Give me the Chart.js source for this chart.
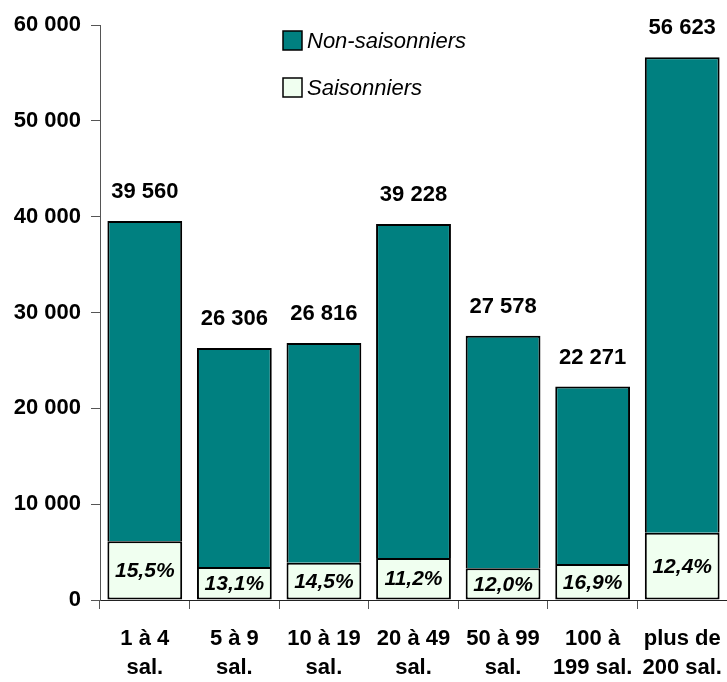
<!DOCTYPE html>
<html>
<head>
<meta charset="utf-8">
<script src="https://cdn.jsdelivr.net/npm/chart.js@4/dist/chart.umd.min.js"></script>
<style>
html,body{margin:0;padding:0;background:#fff;overflow:hidden;}
#wrap{width:727px;height:682px;position:relative;}
</style>
</head>
<body>
<div id="wrap"><canvas id="c" width="727" height="682"></canvas></div>
<script>
const categories = [["1 à 4","sal."],["5 à 9","sal."],["10 à 19","sal."],["20 à 49","sal."],["50 à 99","sal."],["100 à","199 sal."],["plus de","200 sal."]];
const seasonal = [6132, 3446, 3888, 4394, 3309, 3764, 7021];
const nonSeasonal = [33428, 22860, 22928, 34834, 24269, 18507, 49602];
const totals = [39560, 26306, 26816, 39228, 27578, 22271, 56623];
const percents = ["15,5%","13,1%","14,5%","11,2%","12,0%","16,9%","12,4%"];
const yTicks = [0, 10000, 20000, 30000, 40000, 50000, 60000];

const FONT = "'Liberation Sans', Arial, sans-serif";
const fmt = v => String(v).replace(/\B(?=(\d{3})+(?!\d))/g, ' ');

const labels = {
  id: 'labels',
  afterDatasetsDraw(chart){
    const ctx = chart.ctx;
    const m0 = chart.getDatasetMeta(0);
    const m1 = chart.getDatasetMeta(1);
    ctx.save();
    ctx.fillStyle = '#000';
    ctx.textAlign = 'center';
    ctx.textBaseline = 'middle';
    m0.data.forEach((bar, i) => {
      ctx.font = "italic bold 21px " + FONT;
      const cy = (bar.y + bar.base) / 2 + 1;
      ctx.fillText(percents[i], bar.x, cy);
    });
    m1.data.forEach((bar, i) => {
      ctx.font = "bold 22px " + FONT;
      ctx.fillText(fmt(totals[i]), bar.x, bar.y - 29);
    });
    // legend
    const items = [
      {label: chart.data.datasets[1].label, color: chart.data.datasets[1].backgroundColor, y: 41},
      {label: chart.data.datasets[0].label, color: chart.data.datasets[0].backgroundColor, y: 88}
    ];
    ctx.textAlign = 'left';
    ctx.font = "italic 22px " + FONT;
    items.forEach(it => {
      ctx.fillStyle = it.color;
      ctx.fillRect(283, it.y - 10, 19, 19);
      ctx.strokeStyle = '#000';
      ctx.lineWidth = 1.5;
      ctx.strokeRect(283, it.y - 10, 19, 19);
      ctx.fillStyle = '#000';
      ctx.fillText(it.label, 307, it.y + 1);
    });
    ctx.restore();
  }
};

new Chart(document.getElementById('c'), {
  type: 'bar',
  data: {
    labels: categories,
    datasets: [
      {label: 'Saisonniers', data: seasonal, backgroundColor: '#F0FFF0', borderColor: '#000', borderWidth: 2, borderSkipped: false, barPercentage: 0.835, categoryPercentage: 1},
      {label: 'Non-saisonniers', data: nonSeasonal, backgroundColor: '#008080', borderColor: '#000', borderWidth: 2, borderSkipped: 'start', barPercentage: 0.835, categoryPercentage: 1}
    ]
  },
  options: {
    responsive: false,
    animation: false,
    devicePixelRatio: 1,
    layout: {padding: {top: 25, right: 0, left: 0, bottom: 0}},
    plugins: {legend: {display: false}, tooltip: {enabled: false}},
    scales: {
      x: {
        stacked: true,
        offset: true,
        afterFit(s){ s.height = 82; s.paddingLeft = 0; s.paddingRight = 0; },
        grid: {display: true, drawOnChartArea: false, drawTicks: true, tickLength: 9, color: '#555', lineWidth: 1, offset: true},
        border: {display: true, color: '#222', width: 1},
        ticks: {color: '#000', font: {family: FONT, size: 22, weight: 'bold', lineHeight: 1.33}, padding: 15, maxRotation: 0, autoSkip: false}
      },
      y: {
        stacked: true,
        min: 0, max: 60000,
        afterFit(s){ s.width = 100; },
        afterBuildTicks(s){ s.ticks = yTicks.map(v => ({value: v})); },
        grid: {display: true, drawOnChartArea: false, drawTicks: true, tickLength: 9, color: '#555', lineWidth: 1},
        border: {display: true, color: '#555', width: 1},
        ticks: {color: '#000', font: {family: FONT, size: 22, weight: 'bold'}, padding: 10, callback: v => fmt(v)}
      }
    }
  },
  plugins: [labels]
});
</script>
</body>
</html>
